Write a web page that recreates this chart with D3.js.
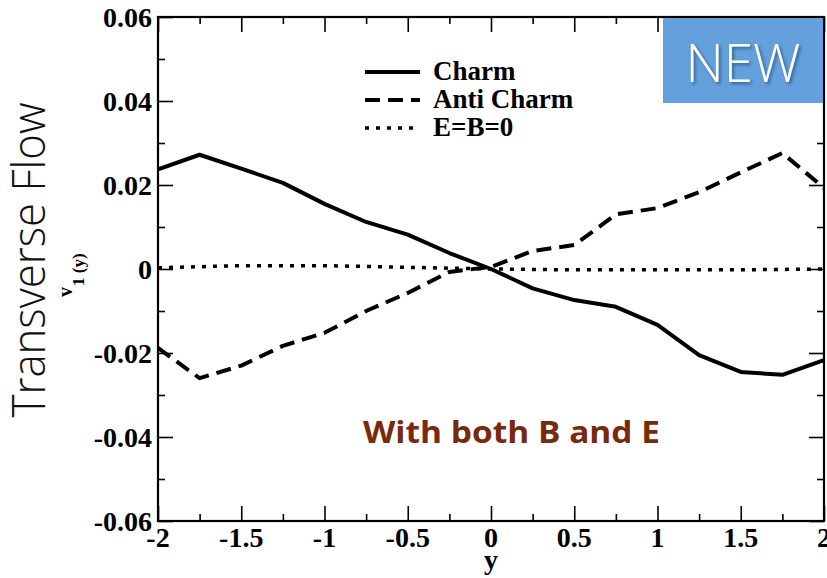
<!DOCTYPE html>
<html>
<head>
<meta charset="utf-8">
<script src="https://cdn.jsdelivr.net/npm/d3@7.9.0/dist/d3.min.js"></script>
<style>
  html, body { margin: 0; padding: 0; background: #fff; }
  svg { display: block; }
</style>
</head>
<body>
<svg id="vis"></svg>
<script>
const width = 827;
const height = 578;

// --- data ---
const xs = [-2, -1.75, -1.5, -1.25, -1, -0.75, -0.5, -0.25, 0, 0.25, 0.5, 0.75, 1, 1.25, 1.5, 1.75, 2];
const charm = [0.0237, 0.0272, 0.0239, 0.0205, 0.0155, 0.0112, 0.0082, 0.0038, 0.0, -0.0046, -0.0074, -0.0090, -0.0133, -0.0205, -0.0245, -0.0252, -0.0217];
const antiCharm = [-0.0188, -0.0260, -0.0230, -0.0183, -0.0152, -0.0100, -0.0057, -0.0007, 0.0005, 0.0043, 0.0057, 0.0130, 0.0145, 0.0183, 0.0230, 0.0276, 0.0193];
const zeroXs = [-2, -1.5, -1, -0.5, 0, 0.5, 1, 1.5, 2];
const zeroField = [0.0003, 0.0008, 0.0008, 0.0004, 0.0, -0.0002, -0.0002, -0.0002, 0.0];

const xTicks = [-2, -1.5, -1, -0.5, 0, 0.5, 1, 1.5, 2];
const xMinor = [-1.75, -1.25, -0.75, -0.25, 0.25, 0.75, 1.25, 1.75];
const yTicks = [-0.06, -0.04, -0.02, 0, 0.02, 0.04, 0.06];
const yMinor = [-0.05, -0.03, -0.01, 0.01, 0.03, 0.05];
const legendNames = ["Charm", "Anti Charm", "E=B=0"];

const margin = { top: 17, right: 3, bottom: 57, left: 158 };
const serif = "'Liberation Serif', 'Times New Roman', serif";
const sans = "'Open Sans', 'Noto Sans', sans-serif";

// plain hyphen minus, like the original plot
const fmtY = d => d === 0 ? "0" : d3.format(".2f")(d).replace("\u2212", "-");
const fmtX = d => String(d);

const svg = d3.select("#vis")
    .attr("width", width)
    .attr("height", height);

const defs = svg.append("defs");
defs.append("filter")
    .attr("id", "shadow")
    .attr("x", "-20%").attr("y", "-20%")
    .attr("width", "140%").attr("height", "140%")
    .append("feDropShadow")
    .attr("dx", 2).attr("dy", 2)
    .attr("stdDeviation", 1.5)
    .attr("flood-color", "#1e4a78")
    .attr("flood-opacity", 0.7);

const x = d3.scaleLinear().domain([-2, 2]).range([margin.left, width - margin.right]);
const y = d3.scaleLinear().domain([-0.06, 0.06]).range([height - margin.bottom, margin.top]);

// --- axes: ticks inside on all four sides ---
function tickAxis(axisFn, scale, major, minor, transform) {
    const g = svg.append("g").attr("transform", transform);
    g.call(axisFn(scale).tickValues(major).tickSize(-15).tickFormat(""));
    const gm = svg.append("g").attr("transform", transform);
    gm.call(axisFn(scale).tickValues(minor).tickSize(-7).tickFormat(""));
    [g, gm].forEach(a => {
        a.select(".domain").remove();
        a.selectAll(".tick line").attr("stroke", "#000").attr("stroke-width", 1.6);
    });
}
tickAxis(d3.axisBottom, x, xTicks, xMinor, `translate(0,${y(-0.06)})`);
tickAxis(d3.axisTop, x, xTicks, xMinor, `translate(0,${y(0.06)})`);
tickAxis(d3.axisLeft, y, yTicks, yMinor, `translate(${x(-2)},0)`);
tickAxis(d3.axisRight, y, yTicks, yMinor, `translate(${x(2)},0)`);

svg.append("rect")
    .attr("x", x(-2))
    .attr("y", y(0.06))
    .attr("width", x(2) - x(-2))
    .attr("height", y(-0.06) - y(0.06))
    .attr("fill", "none")
    .attr("stroke", "#000")
    .attr("stroke-width", 2.2);

// tick labels
svg.append("g").selectAll("text")
    .data(yTicks)
    .join("text")
    .attr("x", x(-2) - 6)
    .attr("y", d => y(d))
    .attr("dy", "0.35em")
    .attr("text-anchor", "end")
    .style("font", `bold 28px ${serif}`)
    .text(fmtY);

svg.append("g").selectAll("text")
    .data(xTicks)
    .join("text")
    .attr("x", d => x(d))
    .attr("y", y(-0.06) + 26)
    .attr("text-anchor", "middle")
    .style("font", `bold 28px ${serif}`)
    .text(fmtX);

svg.append("text")
    .attr("x", x(0))
    .attr("y", 569)
    .attr("text-anchor", "middle")
    .style("font", `bold 28px ${serif}`)
    .text("y");

// y label v1(y)
const vlab = svg.append("text")
    .attr("transform", "translate(72,297) rotate(-90)")
    .style("font", `bold 20px ${serif}`);
vlab.append("tspan").text("v");
vlab.append("tspan").attr("dy", 12).attr("dx", 1).style("font-size", "17px").text("1 (y)");

svg.append("text")
    .attr("transform", "translate(45,260) rotate(-90)")
    .attr("text-anchor", "middle")
    .attr("textLength", 315)
    .attr("lengthAdjust", "spacingAndGlyphs")
    .style("font-family", sans)
    .style("font-weight", 300)
    .style("font-size", "46px")
    .attr("fill", "#111")
    .text("Transverse Flow");

// --- curves ---
const line = d3.line().x(d => x(d[0])).y(d => y(d[1]));
const styles = [
    { dash: null, w: 4 },
    { dash: "15,8", w: 4 },
    { dash: "4,7", w: 3.5 }
];
const series = [
    d3.zip(xs, charm),
    d3.zip(xs, antiCharm),
    d3.zip(zeroXs, zeroField)
];
series.forEach((s, i) => {
    svg.append("path")
        .datum(s)
        .attr("d", line)
        .attr("fill", "none")
        .attr("stroke", "#000")
        .attr("stroke-width", styles[i].w)
        .attr("stroke-dasharray", styles[i].dash)
        .attr("stroke-linejoin", "round");
});

// legend
const legend = svg.append("g");
legendNames.forEach((name, i) => {
    const ly = 72 + i * 28;
    legend.append("line")
        .attr("x1", 365).attr("x2", 420)
        .attr("y1", ly).attr("y2", ly)
        .attr("stroke", "#000")
        .attr("stroke-width", styles[i].w)
        .attr("stroke-dasharray", styles[i].dash);
    legend.append("text")
        .attr("x", 433)
        .attr("y", ly + 8)
        .style("font", `bold 27px ${serif}`)
        .text(name);
});

// annotation
svg.append("text")
    .attr("x", 363)
    .attr("y", 443)
    .attr("textLength", 297)
    .attr("lengthAdjust", "spacingAndGlyphs")
    .style("font-family", sans)
    .style("font-weight", 700)
    .style("font-size", "31px")
    .attr("fill", "#782a0e")
    .text("With both B and E");

// NEW badge
svg.append("rect")
    .attr("x", 663).attr("y", 18)
    .attr("width", 160).attr("height", 85)
    .attr("fill", "#63a0dc");
svg.append("text")
    .attr("x", 743).attr("y", 82)
    .attr("text-anchor", "middle")
    .attr("textLength", 115)
    .attr("lengthAdjust", "spacingAndGlyphs")
    .attr("filter", "url(#shadow)")
    .style("font-family", sans)
    .style("font-weight", 300)
    .style("font-size", "54px")
    .attr("fill", "#fff")
    .text("NEW");
</script>
</body>
</html>
